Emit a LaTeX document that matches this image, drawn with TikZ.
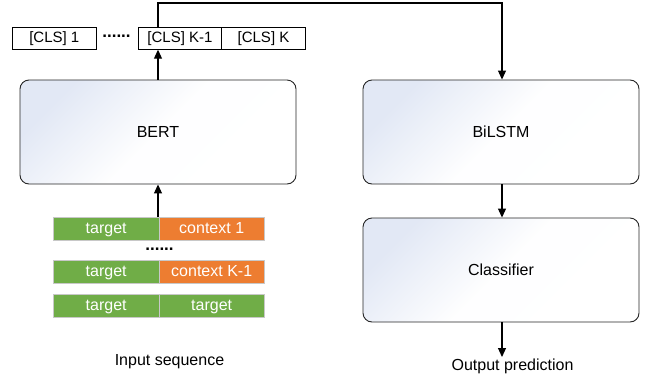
\documentclass[tikz,border=0pt]{standalone}
\usepackage{fontspec}
\setmainfont{Liberation Sans}
\usetikzlibrary{arrows.meta}
\definecolor{tgreen}{HTML}{70AD47}
\definecolor{torange}{HTML}{ED7D31}
\definecolor{tblue}{HTML}{E2E8F5}
\definecolor{segline}{HTML}{C8C8C8}
\begin{document}
\begin{tikzpicture}[x=1pt,y=-1pt,
  bigbox/.style={draw=black!85, line width=0.9pt, rounded corners=9pt,
    top color=tblue, bottom color=white, middle color=white!96!tblue, shading angle=45,
    minimum width=276pt, minimum height=104pt, inner sep=0pt,
    font=\fontsize{16}{19}\selectfont},
  clsbox/.style={draw=black, line width=0.8pt, fill=white,
    minimum width=83.5pt, minimum height=22pt, inner sep=0pt,
    text height=11pt, text depth=3pt,
    font=\fontsize{15}{18}\selectfont},
  seg/.style={draw=segline, line width=0.8pt, minimum width=105.5pt,
    minimum height=23pt, inner sep=0pt, text=white,
    text height=11.5pt, text depth=3.5pt,
    font=\fontsize{16}{19}\selectfont},
  gseg/.style={seg, fill=tgreen},
  oseg/.style={seg, fill=torange},
  lbl/.style={inner sep=0pt, font=\fontsize{16}{19}\selectfont},
  dotsnode/.style={inner sep=0pt, font=\fontsize{17}{19}\selectfont\bfseries},
  arr/.style={line width=1.1pt, -{Triangle[length=9pt,width=8pt]}},
  conn/.style={line width=1.1pt}]
\useasboundingbox (0,0) rectangle (648,381);
% CLS row
\node[clsbox] (cls1) at (54.3,38.3) {[CLS] 1};
\node[dotsnode] (dots1) at (116.5,36) {......};
\node[clsbox] (clsk1) at (180,38.3) {[CLS] K-1};
\node[clsbox] (clsk) at (263.5,38.3) {[CLS] K};
% big boxes
\node[bigbox] (bert) at (158,132) {BERT};
\node[bigbox] (bilstm) at (501,132) {BiLSTM};
\node[bigbox] (classifier) at (501,270) {Classifier};
% input rows
\node[gseg] (r1a) at (106.2,229) {target};
\node[oseg] (r1b) at (211.7,229) {context 1};
\node[dotsnode] (dots2) at (159.5,249) {......};
\node[gseg] (r2a) at (106.2,272) {target};
\node[oseg] (r2b) at (211.7,272) {context K-1};
\node[gseg] (r3a) at (106.2,306) {target};
\node[gseg] (r3b) at (211.7,306) {target};
% labels
\node[lbl] (inlbl) at (169.5,362) {Input sequence};
\node[lbl] (outlbl) at (512.5,366) {Output prediction};
% connectors
\coordinate (c1) at (158,3);
\coordinate (c2) at (502,3);
\coordinate (outend) at (502,357);
\draw[arr] (158,217) -- (bert.south -| 158,0);
\draw[arr] (bert.north -| 158,0) -- (clsk1.south -| 158,0);
\draw[arr] (clsk1.north -| 158,0) -- (c1) -- (c2) -- (bilstm.north -| c2);
\draw[arr] (bilstm.south -| c2) -- (classifier.north -| c2);
\draw[arr] (classifier.south -| c2) -- (outend);
\end{tikzpicture}
\end{document}
